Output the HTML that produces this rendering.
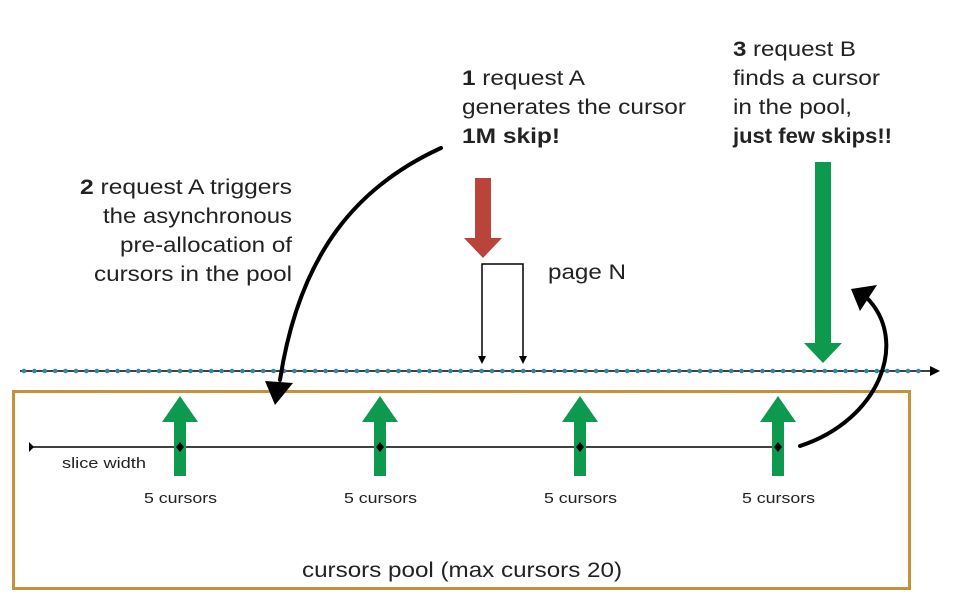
<!DOCTYPE html>
<html><head><meta charset="utf-8"><style>
html,body{margin:0;padding:0;background:#fff;}
svg{display:block;font-family:"Liberation Sans",Arial,sans-serif;}
</style></head><body>
<svg width="958" height="612" viewBox="0 0 958 612">
<!-- pool box -->
<rect x="13.5" y="391.5" width="896" height="197" fill="none" stroke="#c4923a" stroke-width="3"/>
<!-- timeline axis -->
<line x1="20" y1="371" x2="932" y2="371" stroke="#000" stroke-width="1.5"/>
<path d="M930,366 L940,371 L930,376 Z" fill="#000"/>
<g id="dots" fill="#2f86b0"></g>
<!-- slice width line -->
<line x1="29" y1="447" x2="778" y2="447" stroke="#000" stroke-width="1.5"/>
<path d="M29,442 L34,447 L29,452 Z" fill="#000"/>
<text x="62" y="468" font-size="15" fill="#222" textLength="84" lengthAdjust="spacingAndGlyphs">slice width</text>
<g id="cursors"></g>
<!-- red arrow -->
<path d="M475,178 L491,178 L491,238 L502,238 L483,258 L464,238 L475,238 Z" fill="#b8443a"/>
<!-- page N bracket -->
<path d="M482,362 L482,264 L523,264 L523,362" fill="none" stroke="#000" stroke-width="1.5"/>
<path d="M478,356 L482,364 L486,356 Z M519,356 L523,364 L527,356 Z" fill="#000"/>
<text x="548" y="279" font-size="21" fill="#222" textLength="78" lengthAdjust="spacingAndGlyphs">page N</text>
<!-- big green arrow -->
<path d="M815,162 L831,162 L831,343 L842,343 L823,363 L804,343 L815,343 Z" fill="#0e9a4e"/>
<!-- hand drawn curves -->
<path d="M441,148 C360,185 300,250 280,380" fill="none" stroke="#000" stroke-width="4" stroke-linecap="round"/>
<path d="M265,381 L293,383 L275,405 Z" fill="#000"/>
<path d="M800,446 C880,420 910,340 866,297" fill="none" stroke="#000" stroke-width="4" stroke-linecap="round"/>
<path d="M851,289 L877,285 L860,311 Z" fill="#000"/>
<!-- texts -->
<g font-size="21" fill="#222">
<text x="462" y="85" textLength="123" lengthAdjust="spacingAndGlyphs"><tspan font-weight="bold">1</tspan> request A</text>
<text x="462" y="114" textLength="224" lengthAdjust="spacingAndGlyphs">generates the cursor</text>
<text x="462" y="143" font-weight="bold" textLength="98" lengthAdjust="spacingAndGlyphs">1M skip!</text>
</g>
<g font-size="21" fill="#222" text-anchor="end">
<text x="292" y="194" textLength="212" lengthAdjust="spacingAndGlyphs"><tspan font-weight="bold">2</tspan> request A triggers</text>
<text x="292" y="223" textLength="189" lengthAdjust="spacingAndGlyphs">the asynchronous</text>
<text x="292" y="252" textLength="172" lengthAdjust="spacingAndGlyphs">pre-allocation of</text>
<text x="292" y="281" textLength="198" lengthAdjust="spacingAndGlyphs">cursors in the pool</text>
</g>
<g font-size="21" fill="#222">
<text x="733" y="56" textLength="123" lengthAdjust="spacingAndGlyphs"><tspan font-weight="bold">3</tspan> request B</text>
<text x="733" y="85" textLength="147" lengthAdjust="spacingAndGlyphs">finds a cursor</text>
<text x="733" y="114" textLength="119" lengthAdjust="spacingAndGlyphs">in the pool,</text>
<text x="733" y="143" font-weight="bold" textLength="159" lengthAdjust="spacingAndGlyphs">just few skips!!</text>
</g>
<text x="302" y="577" font-size="21" fill="#222" textLength="320" lengthAdjust="spacingAndGlyphs">cursors pool (max cursors 20)</text>
</svg>
<script>
const cursorLabels = ["5 cursors","5 cursors","5 cursors","5 cursors"];
const cursorX = [180, 380, 580, 778];
const NS = "http://www.w3.org/2000/svg";
const dots = document.getElementById('dots');
for (let x = 24; x <= 928; x += 10.4) {
  const c = document.createElementNS(NS, 'circle');
  c.setAttribute('cx', x); c.setAttribute('cy', 371); c.setAttribute('r', 2.3);
  
  
  dots.appendChild(c);
}
const g = document.getElementById('cursors');
cursorX.forEach((x, i) => {
  const p = document.createElementNS(NS, 'path');
  p.setAttribute('d', `M${x-6},476 L${x-6},422 L${x-18},422 L${x},396 L${x+18},422 L${x+6},422 L${x+6},476 Z`);
  p.setAttribute('fill', '#0e9a4e');
  
  
  g.appendChild(p);
  const d = document.createElementNS(NS, 'path');
  d.setAttribute('d', `M${x},442 L${x+4},447 L${x},452 L${x-4},447 Z`);
  d.setAttribute('fill', '#000');
  
  
  g.appendChild(d);
  const t = document.createElementNS(NS, 'text');
  t.setAttribute('x', x - 36); t.setAttribute('y', 503);
  t.setAttribute('font-size', '15'); t.setAttribute('fill', '#222');
  t.setAttribute('textLength', '73');
  t.setAttribute('lengthAdjust', 'spacingAndGlyphs');
  
  
  t.textContent = cursorLabels[i];
  g.appendChild(t);
});
</script>
</body></html>
